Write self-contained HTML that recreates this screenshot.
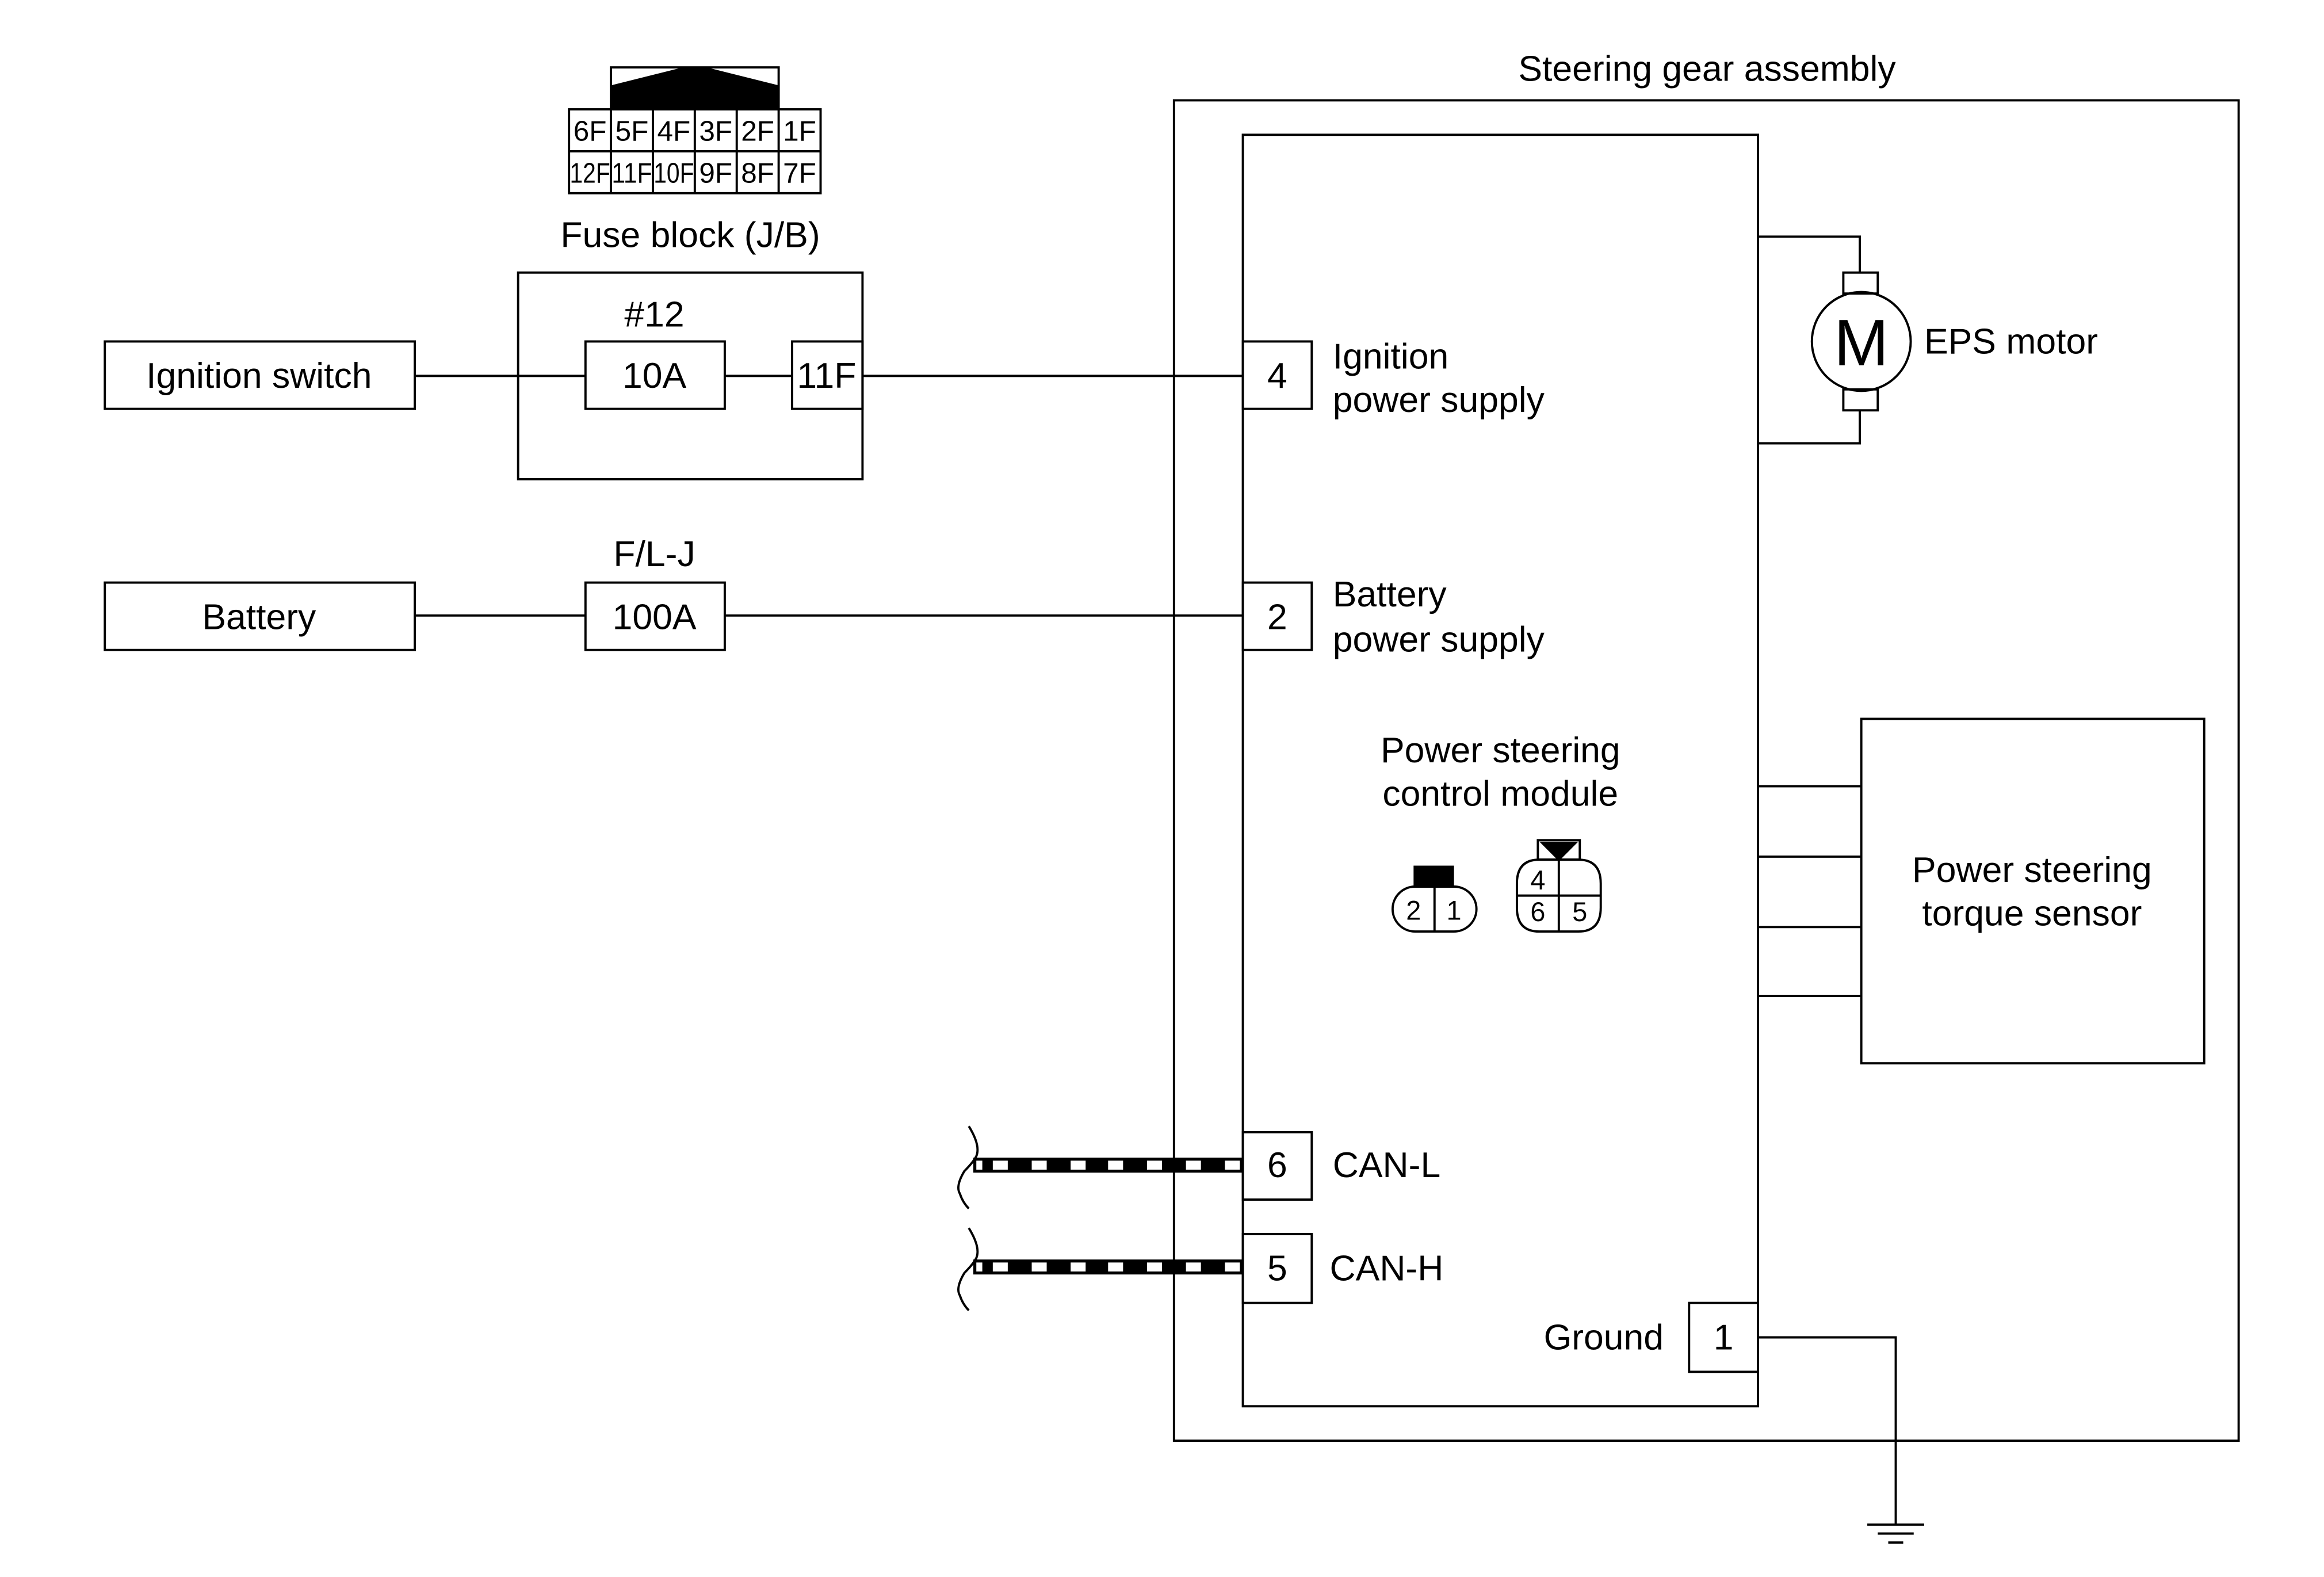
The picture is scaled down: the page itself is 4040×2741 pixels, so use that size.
<!DOCTYPE html>
<html><head><meta charset="utf-8"><style>
html,body{margin:0;padding:0;background:#fff;}
svg{display:block;}
text{font-family:"Liberation Sans",Arial,sans-serif;fill:#000;}
</style></head><body>
<svg width="4040" height="2741" viewBox="0 0 1552 1053" preserveAspectRatio="none" xmlns="http://www.w3.org/2000/svg">
<g fill="none" stroke="#000" stroke-width="1.5">
<rect x="784" y="67" width="711" height="895"/>
<rect x="830" y="90" width="344" height="849"/>
<rect x="408" y="45" width="112" height="28"/>
<rect x="380" y="73" width="168" height="56"/>
<line x1="380" y1="101" x2="548" y2="101"/>
<line x1="408" y1="73" x2="408" y2="129"/><line x1="436" y1="73" x2="436" y2="129"/><line x1="464" y1="73" x2="464" y2="129"/><line x1="492" y1="73" x2="492" y2="129"/><line x1="520" y1="73" x2="520" y2="129"/>
<rect x="346" y="182" width="230" height="138"/>
<rect x="391" y="228" width="93" height="45"/>
<rect x="529" y="228" width="47" height="45"/>
<rect x="70" y="228" width="207" height="45"/>
<line x1="277" y1="251" x2="391" y2="251"/><line x1="484" y1="251" x2="529" y2="251"/><line x1="576" y1="251" x2="830" y2="251"/>
<rect x="830" y="228" width="46" height="45"/>
<rect x="70" y="389" width="207" height="45"/>
<rect x="391" y="389" width="93" height="45"/>
<line x1="277" y1="411" x2="391" y2="411"/><line x1="484" y1="411" x2="830" y2="411"/>
<rect x="830" y="389" width="46" height="45"/>
<polyline points="1174,158 1242,158 1242,182"/>
<rect x="1231" y="182" width="23" height="14"/>
<circle cx="1243" cy="228" r="33"/>
<rect x="1231" y="260" width="23" height="14"/>
<polyline points="1242,274 1242,296 1174,296"/>
<rect x="1243" y="480" width="229" height="230"/>
<line x1="1174" y1="525" x2="1243" y2="525"/><line x1="1174" y1="572" x2="1243" y2="572"/><line x1="1174" y1="619" x2="1243" y2="619"/><line x1="1174" y1="665" x2="1243" y2="665"/>
<path d="M945,592 H971 A15,15 0 0 1 971,622 H945 A15,15 0 0 1 945,592 Z"/>
<line x1="958" y1="592" x2="958" y2="622"/>
<rect x="1027" y="561" width="28" height="13"/>
<path d="M1028,574 H1054 Q1069,574 1069,590 V606 Q1069,622 1054,622 H1028 Q1013,622 1013,606 V590 Q1013,574 1028,574 Z"/>
<line x1="1041" y1="574" x2="1041" y2="622"/><line x1="1013" y1="598" x2="1069" y2="598"/>
<rect x="830" y="756" width="46" height="45"/>
<rect x="830" y="824" width="46" height="46"/>
<path d="M647,752 Q655,765 652,772 Q650,776 644,782 Q638,792 641,797 Q643,803 647,807"/>
<path d="M647,820 Q655,833 652,840 Q650,844 644,850 Q638,860 641,865 Q643,871 647,875"/>
<rect x="1128" y="870" width="46" height="46"/>
<polyline points="1174,893 1266,893 1266,1018"/>
<line x1="1247" y1="1018" x2="1285" y2="1018"/><line x1="1254" y1="1024" x2="1278" y2="1024"/><line x1="1261" y1="1030" x2="1271" y2="1030"/>
</g>
<g fill="#000">
<polygon points="408,57 456,45 472,45 520,57 520,73 408,73"/>
<rect x="944" y="578" width="27" height="14"/>
<polygon points="1028,562 1054,562 1041,575"/>
<rect x="650" y="773" width="180" height="10"/>
<rect x="650" y="841" width="180" height="10"/>
</g>
<g fill="#fff">
<rect x="652" y="775" width="4" height="6"/><rect x="663" y="775" width="10" height="6"/><rect x="689" y="775" width="10" height="6"/><rect x="715" y="775" width="10" height="6"/><rect x="740" y="775" width="10" height="6"/><rect x="766" y="775" width="10" height="6"/><rect x="792" y="775" width="10" height="6"/><rect x="818" y="775" width="10" height="6"/>
<rect x="652" y="843" width="4" height="6"/><rect x="663" y="843" width="10" height="6"/><rect x="689" y="843" width="10" height="6"/><rect x="715" y="843" width="10" height="6"/><rect x="740" y="843" width="10" height="6"/><rect x="766" y="843" width="10" height="6"/><rect x="792" y="843" width="10" height="6"/><rect x="818" y="843" width="10" height="6"/>
</g>
<g font-size="19" text-anchor="middle">
<text x="394" y="94">6F</text><text x="422" y="94">5F</text><text x="450" y="94">4F</text><text x="478" y="94">3F</text><text x="506" y="94">2F</text><text x="534" y="94">1F</text>
<text x="394" y="122" textLength="27" lengthAdjust="spacingAndGlyphs">12F</text><text x="422" y="122" textLength="27" lengthAdjust="spacingAndGlyphs">11F</text><text x="450" y="122" textLength="27" lengthAdjust="spacingAndGlyphs">10F</text><text x="478" y="122">9F</text><text x="506" y="122">8F</text><text x="534" y="122">7F</text>
</g>
<g font-size="18" text-anchor="middle">
<text x="944" y="614">2</text><text x="971" y="614">1</text>
<text x="1027" y="594">4</text><text x="1027" y="615">6</text><text x="1055" y="615">5</text>
</g>
<g font-size="24" text-anchor="middle">
<text x="1140" y="54">Steering gear assembly</text>
<text x="461" y="165">Fuse block (J/B)</text>
<text x="437" y="218">#12</text>
<text x="437" y="259">10A</text>
<text x="552" y="259">11F</text>
<text x="173" y="259">Ignition switch</text>
<text x="853" y="259">4</text>
<text x="437" y="378">F/L-J</text>
<text x="173" y="420">Battery</text>
<text x="437" y="420">100A</text>
<text x="853" y="420">2</text>
<text x="1002" y="509">Power steering</text>
<text x="1002" y="538">control module</text>
<text x="1357" y="589">Power steering</text>
<text x="1357" y="618">torque sensor</text>
<text x="853" y="786">6</text>
<text x="853" y="855">5</text>
<text x="1151" y="901">1</text>
<text x="1243" y="244" font-size="44">M</text>
</g>
<g font-size="24">
<text x="890" y="246">Ignition</text>
<text x="890" y="275">power supply</text>
<text x="890" y="405">Battery</text>
<text x="890" y="435">power supply</text>
<text x="1285" y="236">EPS motor</text>
<text x="890" y="786">CAN-L</text>
<text x="888" y="855">CAN-H</text>
<text x="1111" y="901" text-anchor="end">Ground</text>
</g>
</svg>
</body></html>
